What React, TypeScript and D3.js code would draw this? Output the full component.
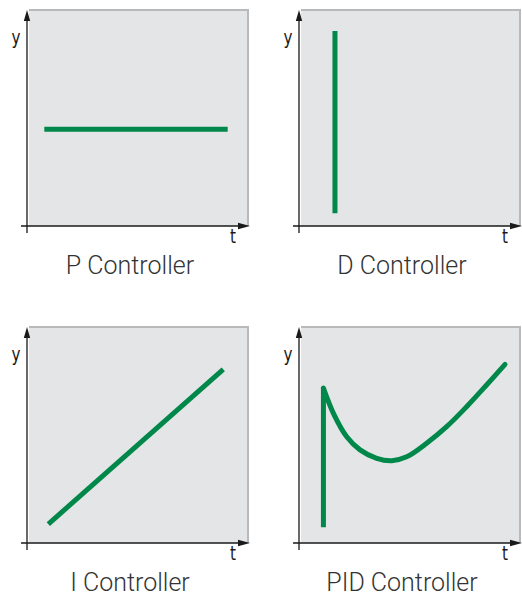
import React, { useRef, useEffect } from "react";
import * as d3 from "d3";

// controller responses, in axis units (t: 0..10, y: 0..10)
const pResponse: [number, number][] = [
  [0.78, 4.5],
  [9.04, 4.5],
];
const dResponse: [number, number][] = [
  [1.62, 0.59],
  [1.62, 9.07],
];
const iResponse: [number, number][] = [
  [0.96, 0.88],
  [8.84, 8.08],
];
const pidJump: [number, number][] = [
  [1.1, 0.73],
  [1.1, 7.2],
];
const pidCurve: [number, number][] = [
  [1.1, 7.2],
  [1.55, 6.03],
  [2.15, 4.94],
  [2.75, 4.33],
  [3.5, 3.94],
  [4.18, 3.83],
  [4.85, 4.01],
  [5.75, 4.64],
  [6.65, 5.41],
  [7.55, 6.34],
  [8.45, 7.35],
  [9.28, 8.31],
];

const titles = ["P Controller", "D Controller", "I Controller", "PID Controller"];
const series = [[pResponse], [dResponse], [iResponse], [pidJump, pidCurve]];
const curved = [[false], [false], [false], [false, true]];

const App = () => {
  const ref = useRef<SVGSVGElement>(null);

  useEffect(() => {
    const width = 522;
    const height = 600;
    const svg = d3.select(ref.current);
    svg.selectAll("*").remove();
    svg.attr("width", width).attr("height", height);

    const green = "#00874a";
    const ink = "#1a1a1a";
    const axisFont = "'DejaVu Sans', sans-serif";

    // origins of each panel (axis crossing)
    const origins = [
      [27, 226],
      [299, 226],
      [27, 543],
      [299, 543],
    ];

    origins.forEach(([ox, oy], i) => {
      const g = svg.append("g");
      const x = d3.scaleLinear().domain([0, 10]).range([ox, ox + 222]);
      const y = d3.scaleLinear().domain([0, 10]).range([oy, oy - 215]);

      // grey plot area with shaded top/right edge
      g.append("rect")
        .attr("x", ox + 2)
        .attr("y", oy - 217)
        .attr("width", 220)
        .attr("height", 217)
        .attr("fill", "#e4e5e7");
      g.append("path")
        .attr("d", `M${ox + 2},${oy - 216} H${ox + 221} V${oy}`)
        .attr("fill", "none")
        .attr("stroke", "#b8b9bb")
        .attr("stroke-width", 2);

      // axes
      g.append("line")
        .attr("x1", ox)
        .attr("x2", ox)
        .attr("y1", oy + 7)
        .attr("y2", oy - 207)
        .attr("stroke", ink)
        .attr("stroke-width", 1.3);
      g.append("path")
        .attr("d", `M${ox},${oy - 216} L${ox - 3.2},${oy - 205} L${ox + 3.2},${oy - 205} Z`)
        .attr("fill", ink);
      g.append("line")
        .attr("x1", ox - 6)
        .attr("x2", ox + 214)
        .attr("y1", oy)
        .attr("y2", oy)
        .attr("stroke", ink)
        .attr("stroke-width", 1.3);
      g.append("path")
        .attr("d", `M${ox + 223},${oy} L${ox + 211},${oy - 3.2} L${ox + 211},${oy + 3.2} Z`)
        .attr("fill", ink);

      g.append("text")
        .attr("transform", `translate(${ox - 11},${oy - 182}) scale(0.8,1)`)
        .attr("text-anchor", "middle")
        .style("font-family", axisFont)
        .style("font-size", "19px")
        .attr("fill", ink)
        .text("y");
      g.append("text")
        .attr("transform", `translate(${ox + 206},${oy + 17}) scale(0.8,1)`)
        .attr("text-anchor", "middle")
        .style("font-family", axisFont)
        .style("font-size", "19px")
        .attr("fill", ink)
        .text("t");

      // response lines
      series[i].forEach((pts, k) => {
        const line = d3
          .line<[number, number]>()
          .x((d) => x(d[0]))
          .y((d) => y(d[1]))
          .curve(curved[i][k] ? d3.curveCatmullRom : d3.curveLinear);
        g.append("path")
          .attr("d", line(pts))
          .attr("fill", "none")
          .attr("stroke", green)
          .attr("stroke-width", 5)
          .attr("stroke-linejoin", "round")
          .attr("stroke-linecap", i === 3 && k === 1 ? "round" : "butt");
      });

      g.append("text")
        .attr("x", ox + 103)
        .attr("y", oy + 48)
        .attr("text-anchor", "middle")
        .style("font-family", "Roboto, 'Liberation Sans', sans-serif")
        .style("font-weight", 300)
        .style("font-size", "25px")
        .attr("fill", "#333")
        .text(titles[i]);
    });
  }, []);

  return (
    <div style={{ position: "absolute", left: 0, top: 0 }}>
      <svg ref={ref}></svg>
    </div>
  );
};

export default App;
